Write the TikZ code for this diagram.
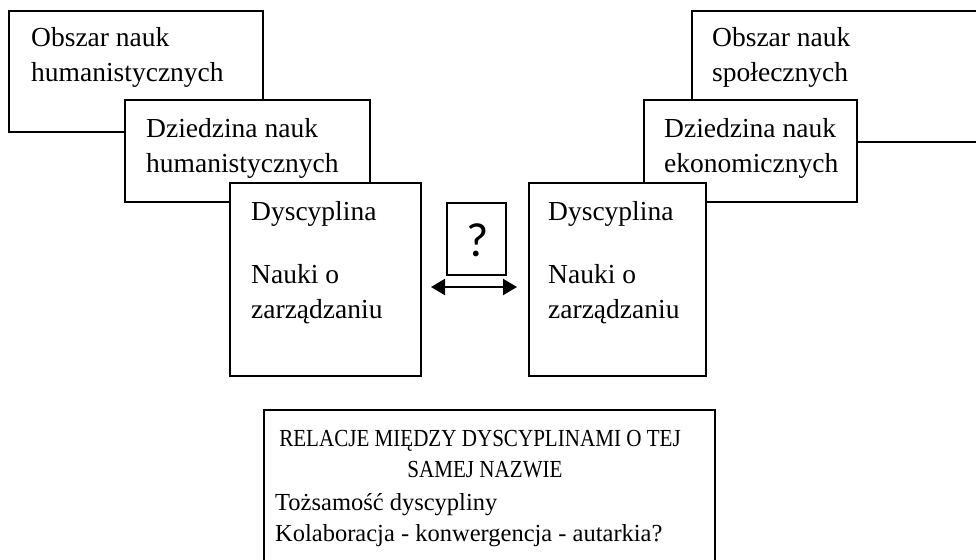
\documentclass[tikz,border=0pt]{standalone}
\usepackage{fontspec}
\setmainfont{Liberation Serif}
\newfontfamily\qfont{Carlito}
\newfontfamily\capfont[FakeStretch=0.86]{Liberation Serif}
\usetikzlibrary{arrows.meta}
\begin{document}
\begin{tikzpicture}[x=1pt,y=-1pt,
  box/.style={draw, fill=white, line width=1.8pt, anchor=north west, inner sep=0pt, outer sep=0pt},
  lbl/.style={anchor=base west, inner sep=0pt, font=\fontsize{27.5}{33}\selectfont},
  blbl/.style={anchor=base west, inner sep=0pt, font=\fontsize{24.5}{30}\selectfont},
  clbl/.style={anchor=base, inner sep=0pt, font=\capfont\fontsize{24.5}{30}\selectfont},
  dbl/.style={line width=2.2pt, {Triangle[length=14pt,width=16pt]}-{Triangle[length=14pt,width=16pt]}}]
\clip (0,0) rectangle (976,559);
\useasboundingbox (0,0) rectangle (976,559);
% left stack
\node[box, minimum width=254pt, minimum height=121pt] (L1) at (9,11) {};
\node[box, minimum width=245pt, minimum height=102pt] (L2) at (125,100) {};
\node[box, minimum width=191pt, minimum height=193pt] (L3) at (230,183) {};
% right stack
\node[box, minimum width=320pt, minimum height=131pt] (R1) at (692,11) {};
\node[box, minimum width=213pt, minimum height=102pt] (R2) at (644,100) {};
\node[box, minimum width=177pt, minimum height=193pt] (R3) at (529,183) {};
% question box
\node[box, minimum width=59pt, minimum height=72pt] (Q) at (447,203) {};
% bottom box
\node[box, minimum width=451pt, minimum height=180pt] (B) at (264,410) {};
% arrow
\draw[dbl, shorten <=10pt, shorten >=12pt] ([yshift=-7.5pt]L3.east) -- ([yshift=-7.5pt]R3.west);
% texts
\node[lbl] (t1a) at (31,47) {Obszar nauk};
\node[lbl] (t1b) at (31,82) {humanistycznych};
\node[lbl] (t2a) at (146,137) {Dziedzina nauk};
\node[lbl] (t2b) at (146,172) {humanistycznych};
\node[lbl] (t3a) at (251,220) {Dyscyplina};
\node[lbl] (t3b) at (251,283) {Nauki o};
\node[lbl] (t3c) at (251,318) {zarządzaniu};
\node[lbl] (r1a) at (712,47) {Obszar nauk};
\node[lbl] (r1b) at (712,82) {społecznych};
\node[lbl] (r2a) at (664,137) {Dziedzina nauk};
\node[lbl] (r2b) at (664,172) {ekonomicznych};
\node[lbl] (r3a) at (548,220) {Dyscyplina};
\node[lbl] (r3b) at (548,283) {Nauki o};
\node[lbl] (r3c) at (548,318) {zarządzaniu};
\node[anchor=base, inner sep=0pt, font=\qfont\fontsize{48}{56}\selectfont] (qt) at (478,256) {?};
\node[clbl] (b1) at (480,446) {RELACJE MIĘDZY DYSCYPLINAMI O TEJ};
\node[clbl] (b2) at (485,477) {SAMEJ NAZWIE};
\node[blbl] (b3) at (275,510) {Tożsamość dyscypliny};
\node[blbl] (b4) at (275,541) {Kolaboracja - konwergencja - autarkia?};
\end{tikzpicture}
\end{document}
